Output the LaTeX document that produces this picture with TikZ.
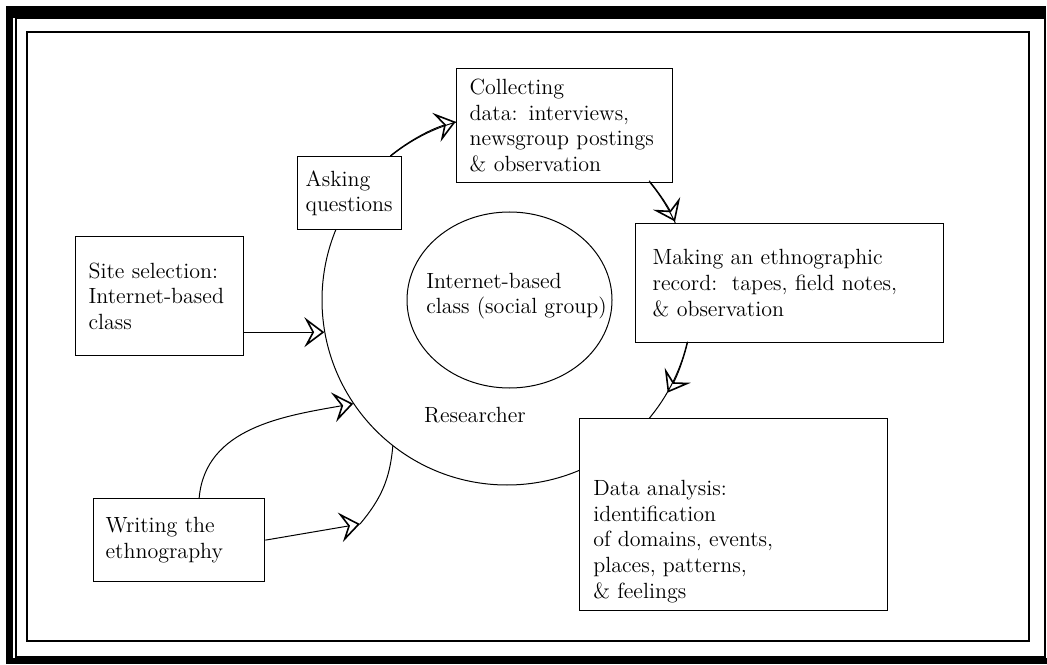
\documentclass[tikz,border=0pt]{standalone}
\usepackage{tikz}
\usetikzlibrary{arrows.meta,positioning,shapes.geometric}

\begin{document}
\begin{tikzpicture}[
x=0.5pt, y=0.5pt,
ethbox/.style={draw, fill=white, line width=0.65pt, align=left,
font=\fontsize{11}{12.8}\selectfont, inner ysep=0pt, anchor=north west},
ethtext/.style={align=left, font=\fontsize{11}{12.8}\selectfont, inner sep=0pt},
ethring/.style={draw, line width=0.5pt, inner sep=0pt},
etharrow/.style={-{Stealth[open, length=10pt, width=15pt, inset=4pt, line width=0.8pt]},
line width=0.5pt}
]
\useasboundingbox (0,0) rectangle (1047,664);
% double frame
\fill (6,646) rectangle (1046,658);
\fill (6,0) rectangle (13,658);
\fill (6,0) rectangle (1047,6);
\draw[line width=1pt] (16,7.5) rectangle (1044.5,646);
\draw[line width=0.75pt] (27,23) rectangle (1029,632);

% researcher cycle
\node[ethring, circle, minimum size=185pt] (cyc) at (507,364) {};
\node[ethring, ellipse, minimum width=102.5pt, minimum height=88pt] (group) at (509.5,364) {};
\node[ethtext] (grouptext) at ([xshift=3.5pt, yshift=2pt]group.center) {Internet-based\\class (social group)};
\node[ethtext] (res) at (475,249) {Researcher};

\node[ethbox, inner xsep=6.5pt, text width=71pt, minimum height=59.5pt] (site) at (75,428) {Site selection:\\Internet-based\\class};
\node[ethbox, inner xsep=4pt, text width=44pt, minimum height=36.5pt] (ask) at (297,508) {Asking\\questions};
\node[ethbox, inner xsep=6.5pt, text width=95pt, minimum height=57pt] (coll) at (456,596) {Collecting\\data: interviews,\\newsgroup postings\\\& observation};
\node[ethbox, inner xsep=8.5pt, text width=137pt, minimum height=59.5pt] (make) at (635,441) {Making an ethnographic\\record:\ \ tapes, field notes,\\\& observation};
\node[ethbox, minimum width=154pt, minimum height=96pt] (data) at (579,246) {};
\node[ethtext, below right=31pt and 7pt of data.north west] (datatext) {Data analysis:\\identification\\of domains, events,\\places, patterns,\\\& feelings};
\node[ethbox, inner xsep=6pt, text width=73.5pt, minimum height=41.5pt] (write) at (93,166) {Writing the\\ethnography};

\coordinate (wtip) at (360,140);

\draw[etharrow] (site.east |- cyc.190) -- (cyc.190);
\draw[etharrow] (cyc.129) arc[start angle=129, end angle=106, radius=92.5pt];
\draw[etharrow] (cyc.40) arc[start angle=40, end angle=25, radius=92.5pt];
\draw[etharrow] (cyc.347) arc[start angle=-13, end angle=-30, radius=92.5pt];
\draw[etharrow] ([xshift=10pt]write.north) to[out=85, in=190] (cyc.214);
\draw[etharrow] (write.east) -- (wtip);
\draw[line width=0.5pt] (wtip) to[out=50, in=-95] (cyc.232);
\end{tikzpicture}
\end{document}
